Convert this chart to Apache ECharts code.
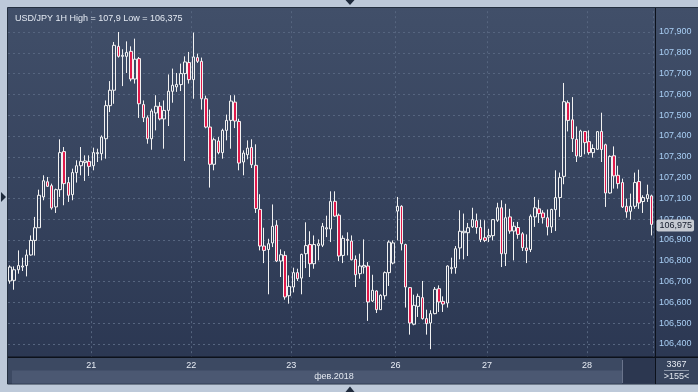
<!DOCTYPE html>
<html><head><meta charset="utf-8">
<script src="https://cdn.jsdelivr.net/npm/echarts@6/dist/echarts.min.js"></script>
<style>html,body{margin:0;padding:0;background:#bdc9d9}#c{width:698px;height:392px}</style>
</head><body><div id="c"></div>
<script>
const openP = [
106.703,106.706,106.757,106.770,106.777,106.828,106.898,106.959,107.107,107.180,
107.161,107.059,107.142,107.325,107.176,107.118,107.224,107.257,107.272,107.278,
107.257,107.315,107.315,107.387,107.546,107.620,107.831,107.783,107.783,107.807,
107.674,107.772,107.551,107.488,107.387,107.511,107.543,107.482,107.523,107.615,
107.636,107.647,107.700,107.753,107.671,107.777,107.759,107.579,107.443,107.264,
107.376,107.320,107.427,107.475,107.563,107.470,107.275,107.310,107.345,107.259,
107.047,106.871,106.854,106.886,106.971,106.799,106.826,106.632,106.674,106.743,
106.717,106.834,106.878,106.786,106.873,106.875,106.953,106.953,107.086,107.019,
106.826,106.903,106.895,106.807,106.738,106.770,106.775,106.607,106.655,106.565,
106.632,106.743,106.789,107.039,107.062,106.878,106.671,106.495,106.581,106.623,
106.522,106.501,106.546,106.666,106.605,106.597,106.762,106.767,106.862,106.935,
106.935,106.963,106.993,106.960,106.911,106.914,106.921,106.995,107.055,106.834,
107.011,106.943,106.960,106.930,106.862,106.854,107.011,107.050,107.030,107.007,
106.963,107.046,107.104,107.206,107.560,107.478,107.384,107.302,107.422,107.373,
107.320,107.336,107.422,107.358,107.126,107.305,107.211,107.176,107.062,107.038,
107.062,107.181,107.085,107.099,107.112];
const closeP = [
106.770,106.757,106.777,106.775,106.828,106.898,106.959,107.115,107.185,107.158,
107.054,107.142,107.320,107.171,107.115,107.224,107.257,107.278,107.280,107.254,
107.320,107.320,107.395,107.546,107.620,107.836,107.783,107.788,107.802,107.674,
107.769,107.555,107.488,107.387,107.520,107.543,107.482,107.523,107.615,107.644,
107.648,107.700,107.756,107.671,107.780,107.759,107.579,107.443,107.264,107.382,
107.320,107.427,107.475,107.568,107.472,107.270,107.318,107.342,107.262,107.051,
106.871,106.850,106.882,106.966,106.799,106.829,106.626,106.677,106.743,106.714,
106.831,106.873,106.786,106.878,106.882,106.966,106.959,107.086,107.015,106.823,
106.908,106.898,106.805,106.733,106.775,106.778,106.602,106.658,106.565,106.634,
106.743,106.890,106.886,107.062,106.882,106.674,106.501,106.586,106.629,106.522,
106.498,106.546,106.663,106.602,106.592,106.775,106.767,106.858,106.942,106.942,
106.959,106.998,106.960,106.902,106.898,106.921,106.998,107.055,106.834,107.007,
106.943,106.966,106.927,106.863,106.849,107.014,107.055,107.027,107.007,106.963,
107.047,107.104,107.200,107.565,107.475,107.387,107.304,107.424,107.368,107.320,
107.340,107.421,107.335,107.126,107.302,107.208,107.171,107.059,107.035,107.062,
107.176,107.078,107.104,107.118,106.975];
const lowP = [
106.690,106.661,106.738,106.751,106.725,106.825,106.825,106.959,107.091,107.155,
107.046,107.030,107.107,107.067,107.083,107.091,107.176,107.211,107.184,107.208,
107.235,107.275,107.283,107.291,107.515,107.555,107.777,107.640,107.703,107.663,
107.652,107.487,107.467,107.363,107.334,107.427,107.475,107.339,107.448,107.560,
107.612,107.616,107.280,107.652,107.579,107.751,107.527,107.437,107.152,107.235,
107.312,107.291,107.379,107.339,107.438,107.235,107.211,107.288,107.246,107.030,
106.850,106.789,106.639,106.866,106.794,106.722,106.613,106.594,106.648,106.703,
106.639,106.765,106.722,106.762,106.802,106.866,106.914,106.890,107.011,106.799,
106.789,106.826,106.802,106.674,106.714,106.738,106.511,106.602,106.549,106.565,
106.613,106.679,106.783,106.898,106.850,106.575,106.445,106.490,106.530,106.517,
106.445,106.375,106.543,106.554,106.554,106.575,106.738,106.738,106.807,106.807,
106.823,106.958,106.930,106.890,106.890,106.890,106.898,106.987,106.770,106.775,
106.930,106.802,106.906,106.847,106.789,106.842,106.963,106.982,106.979,106.922,
106.934,106.943,107.011,107.168,107.422,107.323,107.275,107.299,107.312,107.310,
107.296,107.335,107.275,107.059,107.123,107.147,107.147,107.054,107.007,106.998,
107.050,107.050,107.030,107.083,106.922];
const highP = [
106.778,106.773,106.850,106.815,106.854,106.922,107.011,107.142,107.211,107.203,
107.171,107.147,107.384,107.347,107.203,107.243,107.283,107.347,107.307,107.307,
107.344,107.339,107.403,107.571,107.664,107.852,107.900,107.817,107.855,107.831,
107.868,107.780,107.571,107.499,107.531,107.596,107.563,107.571,107.696,107.724,
107.703,107.748,107.783,107.804,107.897,107.796,107.777,107.594,107.527,107.392,
107.395,107.435,107.503,107.596,107.596,107.483,107.331,107.379,107.384,107.360,
107.120,106.959,106.906,107.071,106.995,106.855,106.846,106.730,106.767,106.762,
106.834,106.985,106.942,106.922,106.903,106.982,107.017,107.134,107.134,107.027,
106.922,106.937,106.922,106.826,106.834,106.903,106.794,106.733,106.658,106.639,
106.749,106.898,106.898,107.107,107.067,106.882,106.674,106.637,106.642,106.703,
106.565,106.562,106.674,106.682,106.629,106.778,106.815,106.871,107.043,107.027,
106.982,107.055,107.027,106.998,106.995,106.954,107.000,107.079,107.091,107.074,
107.050,106.987,106.987,106.938,106.927,107.023,107.107,107.094,107.043,107.047,
107.050,107.235,107.224,107.655,107.571,107.587,107.446,107.430,107.422,107.427,
107.360,107.424,107.512,107.363,107.307,107.350,107.257,107.195,107.099,107.123,
107.224,107.238,107.115,107.166,107.118];
const dayLabels = ['21','22','23','26','27','28'];
const dayStart = [20,44,68,93,115,139];
const priceTicks = [106.4,106.5,106.6,106.7,106.8,106.9,107.0,107.1,107.2,107.3,107.4,107.5,107.6,107.7,107.8,107.9];
const lastPrice = 106.975;
const titleText = 'USD/JPY 1H High = 107,9 Low = 106,375';
const monthLabel = 'фев.2018';
const barsTotal = '3367';
const barsShown = '>155<';

const FONT = "'Liberation Sans', Arial, sans-serif";
const fmt = v => v.toFixed(3).replace('.', ',');
const categories = openP.map((_, i) => 'h' + i);
const ohlc = openP.map((o, i) => [o, closeP[i], lowP[i], highP[i]]);
const gridStyle = { color: '#56657f', type: [2, 3], width: 1 };

const chart = echarts.init(document.getElementById('c'), null, { renderer: 'canvas' });
const G = echarts.graphic;
const option = {
  animation: false,
  backgroundColor: '#bdc9d9',
  title: { text: titleText, left: 10, top: 9,
    textStyle: { color: '#e3e9f2', fontSize: 9, fontWeight: 'normal', fontFamily: FONT } },
  grid: [
    { left: 8, right: 44.5, top: 11.2, bottom: 27.2 },
    { left: 8, right: 44.5, top: 357, height: 1 }
  ],
  xAxis: [
    { type: 'category', data: categories, gridIndex: 0, boundaryGap: true,
      axisLine: { show: false }, axisTick: { show: false }, axisLabel: { show: false },
      splitLine: { show: true, interval: (i) => dayStart.includes(i), lineStyle: gridStyle } },
    { type: 'category', data: categories, gridIndex: 1, boundaryGap: true, z: 60,
      axisLine: { show: false }, axisTick: { show: false }, splitLine: { show: false },
      axisLabel: { interval: (i) => dayStart.includes(i),
        formatter: (v, i) => dayLabels[dayStart.indexOf(i)] || '',
        color: '#e8edf5', fontSize: 9, fontFamily: FONT, margin: 3, padding: [0, 4, 0, 0] } }
  ],
  yAxis: [
    { type: 'value', gridIndex: 0, position: 'right', min: 106.3, max: 108.0, interval: 0.1,
      splitLine: { show: false }, axisLine: { show: false }, axisTick: { show: false },
      axisLabel: { margin: 5.5, color: '#a9cff5', fontSize: 9, fontFamily: FONT,
        formatter: v => priceTicks.some(t => Math.abs(t - v) < 1e-6) ? fmt(v) : '' } },
    { type: 'value', gridIndex: 1, show: false }
  ],
  series: [{
    type: 'candlestick', xAxisIndex: 0, yAxisIndex: 0, data: ohlc, barWidth: 3,
    itemStyle: { color: 'rgba(0,0,0,0)', color0: '#e0194b', borderColor: '#f2f2f2', borderColor0: '#f2f2f2', borderWidth: 1 },
    markLine: {
      silent: true, symbol: 'none', animation: false, z: 1,
      data: priceTicks.map(v => ({ yAxis: v, lineStyle: gridStyle, label: { show: false } }))
    }
  }, {
    type: 'line', xAxisIndex: 0, yAxisIndex: 0, data: [], z: 5, silent: true,
    markLine: {
      silent: true, symbol: 'none', animation: false,
      lineStyle: { color: 'rgba(0,0,0,0)', width: 1 },
      data: [{ yAxis: lastPrice,
        label: { show: true, position: 'end', distance: 3, formatter: fmt(lastPrice),
          backgroundColor: '#c6cad2', color: '#141b2b', padding: [2, 2, 1, 3], borderRadius: 2,
          fontSize: 9, fontFamily: FONT, opacity: 1 } }]
    }
  }],
  graphic: { elements: [
    { type: 'rect', z: -10, shape: { x: 7.5, y: 7.5, width: 691, height: 376.5 },
      style: { fill: new G.LinearGradient(0, 0, 0, 1, [{ offset: 0, color: '#414f69' }, { offset: 1, color: '#2a3651' }]),
        stroke: '#243040', lineWidth: 1 } },
    { type: 'rect', z: 50, shape: { x: 8, y: 357.5, width: 647, height: 26 }, style: { fill: '#3c4962' } },
    { type: 'rect', z: 51, shape: { x: 12, y: 370.5, width: 610, height: 13 }, style: { fill: '#4b5872' } },
    { type: 'rect', z: 51, shape: { x: 622.5, y: 358, width: 32.5, height: 25.5 }, style: { fill: '#2c3750' } },
    { type: 'line', z: 52, shape: { x1: 622.5, y1: 360, x2: 622.5, y2: 383 }, style: { stroke: '#6a748c', lineWidth: 1 } },
    { type: 'rect', z: 50, shape: { x: 655.5, y: 357.5, width: 42.5, height: 26 }, style: { fill: '#37445d' } },
    { type: 'line', z: 52, shape: { x1: 8, y1: 357.2, x2: 698, y2: 357.2 }, style: { stroke: '#0c111b', lineWidth: 1.5 } },
    { type: 'line', z: 52, shape: { x1: 655.5, y1: 8, x2: 655.5, y2: 384 }, style: { stroke: '#0c111b', lineWidth: 1 } },
    { type: 'text', z: 60, x: 334, y: 376.5, style: { text: monthLabel, fill: '#e3e8f0', font: '9px ' + FONT, textAlign: 'center', textVerticalAlign: 'middle' } },
    { type: 'text', z: 60, x: 676.5, y: 364.5, style: { text: barsTotal, fill: '#e3e8f0', font: '9px ' + FONT, textAlign: 'center', textVerticalAlign: 'middle' } },
    { type: 'line', z: 60, shape: { x1: 664, y1: 370.5, x2: 689, y2: 370.5 }, style: { stroke: '#8a94a6', lineWidth: 1 } },
    { type: 'text', z: 60, x: 676.5, y: 377, style: { text: barsShown, fill: '#e3e8f0', font: '9px ' + FONT, textAlign: 'center', textVerticalAlign: 'middle' } },
    { type: 'polygon', z: 60, shape: { points: [[345.5, 0], [354.5, 0], [350, 5]] }, style: { fill: '#1e2a3c' } },
    { type: 'polygon', z: 60, shape: { points: [[345.5, 392], [354.5, 392], [350, 386.5]] }, style: { fill: '#1e2a3c' } },
    { type: 'polygon', z: 60, shape: { points: [[1, 192], [1, 202], [6, 197]] }, style: { fill: '#1e2a3c' } }
  ] }
};
chart.setOption(option);
</script>
</body></html>
